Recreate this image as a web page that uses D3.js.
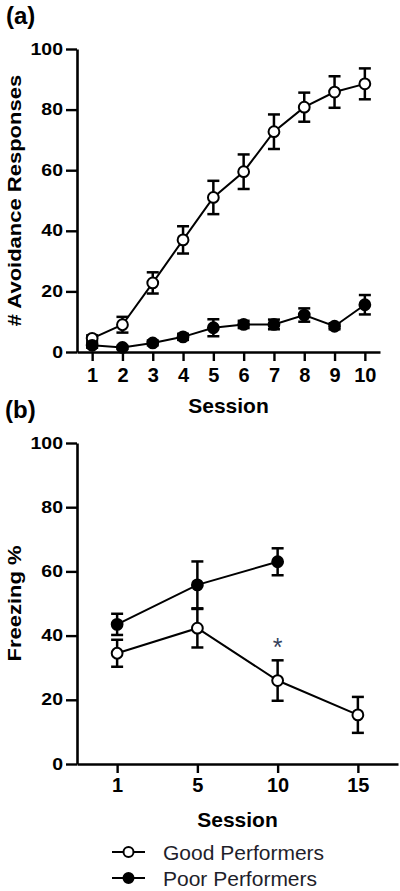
<!DOCTYPE html>
<html><head><meta charset="utf-8">
<script src="https://cdn.jsdelivr.net/npm/d3@7"></script>
<style>html,body{margin:0;padding:0;background:#fff;}svg{display:block;}</style>
</head><body>
<script>
// ---- Data ----
const sessionsA = ["1","2","3","4","5","6","7","8","9","10"];
const goodA     = [4.5, 9, 22.8, 37, 51, 59.5, 72.7, 80.8, 85.8, 88.5];
const goodAErr  = [1, 2.6, 3.5, 4.5, 5.5, 5.7, 5.7, 4.8, 5.2, 5.1];
const poorA     = [2.2, 1.5, 3, 5, 8, 9.1, 9.1, 12.2, 8.5, 15.6];
const poorAErr  = [0.8, 0.5, 0.8, 1, 2.8, 1.2, 1.6, 2.2, 1, 3.2];

const sessionsB = ["1","5","10","15"];
const goodB     = [34.5, 42.3, 26, 15.3];
const goodBErr  = [4.2, 6, 6.3, 5.6];
const poorB     = [43.5, 55.8, 63];
const poorBErr  = [3.3, 7.3, 4.2];

const yTicks = [0, 20, 40, 60, 80, 100];
const seriesNames = ["Good Performers", "Poor Performers"];
const annotation = {session: "10", value: 38, text: "*"};

const W = 400, H = 891;
const FONT = "'Liberation Sans', Arial, Helvetica, sans-serif";
const svg = d3.select("body").append("svg").attr("width", W).attr("height", H)
  .style("font-family", FONT);

function panel(cfg) {
  const x = d3.scalePoint().domain(cfg.sessions).range([cfg.left, cfg.right]).padding(0.5);
  const y = d3.scaleLinear().domain([0, 100]).range([cfg.bottom, cfg.top]);
  const g = svg.append("g");

  // axes
  const ya = g.append("g").attr("transform", `translate(${cfg.left},0)`)
    .call(d3.axisLeft(y).tickValues(yTicks).tickSize(11).tickSizeOuter(0).tickPadding(3));
  const xa = g.append("g").attr("transform", `translate(0,${cfg.bottom})`)
    .call(d3.axisBottom(x).tickSize(9).tickSizeOuter(0).tickPadding(cfg.xPad));
  [ya, xa].forEach(a => {
    a.select(".domain").attr("stroke", "#000").attr("stroke-width", 2.6);
    a.selectAll(".tick line").attr("stroke", "#000").attr("stroke-width", 2.4);
    a.selectAll(".tick text").attr("fill", "#000").style("font-weight", "bold")
      .style("font-family", FONT);
  });
  ya.selectAll(".tick text").style("font-size", "19.5px").attr("transform", "scale(1,0.82)");
  xa.selectAll(".tick text").style("font-size", "20px");

  // axis titles
  g.append("text").attr("x", (cfg.left + cfg.right) / 2).attr("y", cfg.xTitleY)
    .attr("text-anchor", "middle").style("font-size", "21px").style("font-weight", "bold")
    .text("Session");
  g.append("text")
    .attr("transform", `translate(20.5,${(cfg.top + cfg.bottom) / 2}) rotate(-90) scale(1,0.85)`)
    .attr("text-anchor", "middle").style("font-size", "22px").style("font-weight", "bold")
    .text(cfg.yTitle);
  g.append("text").attr("x", cfg.labelX).attr("y", cfg.labelY)
    .style("font-size", "24px").style("font-weight", "bold").text(cfg.label);

  const series = [
    {vals: cfg.good, err: cfg.goodErr, fill: "#fff"},
    {vals: cfg.poor, err: cfg.poorErr, fill: "#000"}
  ];
  series.forEach(s => {
    const pts = s.vals.map((v, i) => ({k: cfg.sessions[i], v, e: s.err[i]}));
    const sg = g.append("g");
    // error bars
    const eb = sg.selectAll("g.eb").data(pts).join("g");
    eb.append("line").attr("x1", d => x(d.k)).attr("x2", d => x(d.k))
      .attr("y1", d => y(d.v + d.e)).attr("y2", d => y(d.v - d.e));
    eb.append("line").attr("x1", d => x(d.k) - 6).attr("x2", d => x(d.k) + 6)
      .attr("y1", d => y(d.v + d.e)).attr("y2", d => y(d.v + d.e));
    eb.append("line").attr("x1", d => x(d.k) - 6).attr("x2", d => x(d.k) + 6)
      .attr("y1", d => y(d.v - d.e)).attr("y2", d => y(d.v - d.e));
    eb.selectAll("line").attr("stroke", "#000").attr("stroke-width", 2.5);
    // line
    sg.append("path").datum(pts)
      .attr("d", d3.line().x(d => x(d.k)).y(d => y(d.v)))
      .attr("fill", "none").attr("stroke", "#000").attr("stroke-width", 2);
    // markers
    sg.selectAll("circle").data(pts).join("circle")
      .attr("cx", d => x(d.k)).attr("cy", d => y(d.v)).attr("r", 5.4)
      .attr("fill", s.fill).attr("stroke", "#000").attr("stroke-width", 2);
  });
  return {x, y, g};
}

panel({sessions: sessionsA, good: goodA, goodErr: goodAErr, poor: poorA, poorErr: poorAErr,
  left: 77, right: 380, top: 49, bottom: 352, xPad: 7, xTitleY: 413,
  yTitle: "# Avoidance Responses", label: "(a)", labelX: 6, labelY: 24});

const pB = panel({sessions: sessionsB, good: goodB, goodErr: goodBErr, poor: poorB, poorErr: poorBErr,
  left: 77, right: 398, top: 443, bottom: 764, xPad: 5, xTitleY: 827,
  yTitle: "Freezing %", label: "(b)", labelX: 5, labelY: 418});

// significance marker
svg.append("text").attr("x", pB.x(annotation.session)).attr("y", pB.y(annotation.value) + 14)
  .attr("text-anchor", "middle").style("font-size", "25px").attr("fill", "#34405a")
  .text(annotation.text);

// legend
const leg = svg.append("g");
seriesNames.forEach((name, i) => {
  const yy = 852 + i * 26;
  leg.append("line").attr("x1", 112).attr("x2", 145).attr("y1", yy).attr("y2", yy)
    .attr("stroke", "#000").attr("stroke-width", 2.2);
  leg.append("circle").attr("cx", 128.5).attr("cy", yy).attr("r", 5)
    .attr("fill", i === 0 ? "#fff" : "#000").attr("stroke", "#000").attr("stroke-width", 2);
  leg.append("text").attr("x", 163).attr("y", yy + 7.5).style("font-size", "21px")
    .attr("fill", "#1e1e2a").text(name);
});
</script>
</body></html>
